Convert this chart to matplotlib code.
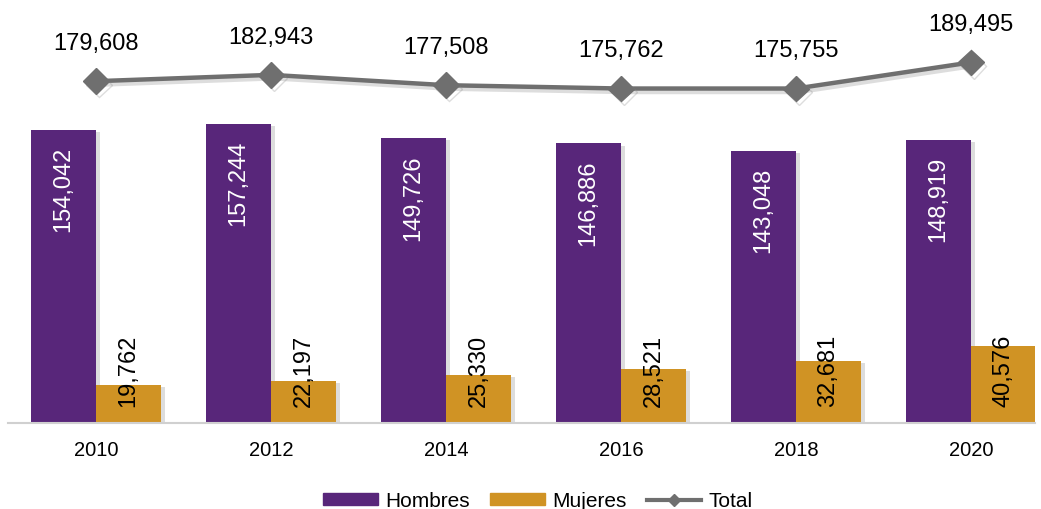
import numpy as np
import matplotlib.pyplot as plt
import matplotlib.patheffects as pe
from matplotlib.lines import Line2D
from matplotlib.patches import Patch

plt.rcParams['font.family'] = ['Liberation Sans', 'DejaVu Sans']

years = ['2010', '2012', '2014', '2016', '2018', '2020']
hombres = [154042, 157244, 149726, 146886, 143048, 148919]
mujeres = [19762, 22197, 25330, 28521, 32681, 40576]
total = [179608, 182943, 177508, 175762, 175755, 189495]

PURPLE = '#58267a'
GOLD = '#d09324'
GREY = '#6f6f6f'

fig = plt.figure(figsize=(10.41, 5.10), dpi=100)
ax = fig.add_axes([8 / 1041, 86 / 510, 1027 / 1041, 424 / 510])

x = np.arange(len(years))
w = 0.371
px = 1.903 / 1000  # pixels per data unit

shadow = [pe.SimplePatchShadow(offset=(3, -1.5), shadow_rgbFace='#909090', alpha=0.3), pe.Normal()]
b1 = ax.bar(x - w / 2, hombres, w, color=PURPLE, zorder=2, path_effects=shadow)
b2 = ax.bar(x + w / 2, mujeres, w, color=GOLD, zorder=2, path_effects=shadow)

ax.plot(x, total, color=GREY, lw=3.2, marker='D', markersize=13, zorder=3,
        path_effects=[pe.SimpleLineShadow(offset=(2, -2.5), shadow_color='#909090', alpha=0.3), pe.Normal()])

fs = 17
for i in range(len(years)):
    ax.text(x[i] - w / 2, hombres[i] - 16 / px, f'{hombres[i]:,}', rotation=90,
            ha='center', va='top', color='white', fontsize=fs)
    ax.text(x[i] + w / 2, 17 / px, f'{mujeres[i]:,}', rotation=90,
            ha='center', va='bottom', color='black', fontsize=fs)
    ax.annotate(f'{total[i]:,}', (x[i], total[i]), xytext=(0, 27.5), textcoords='offset points',
                ha='center', va='center', fontsize=fs)

ax.set_xlim(-0.503, 5.366)
ax.set_ylim(0, 424 / px)
ax.set_xticks(x)
ax.set_xticklabels(years, fontsize=14.5)
ax.tick_params(axis='x', length=0, pad=12)
ax.set_yticks([])
for s in ['top', 'right', 'left']:
    ax.spines[s].set_visible(False)
ax.spines['bottom'].set_color('#d0d0d0')
ax.spines['bottom'].set_linewidth(1.5)

handles = [Patch(color=PURPLE), Patch(color=GOLD),
           Line2D([], [], color=GREY, lw=3, marker='D', markersize=6)]
fig.legend(handles, ['Hombres', 'Mujeres', 'Total'], loc='center',
           bbox_to_anchor=(538 / 1041, 1 - 502 / 510), ncol=3, frameon=False,
           fontsize=15, handlelength=2.6, handleheight=0.55, handletextpad=0.35,
           columnspacing=1.0)

fig.savefig('out.png', dpi=100)
